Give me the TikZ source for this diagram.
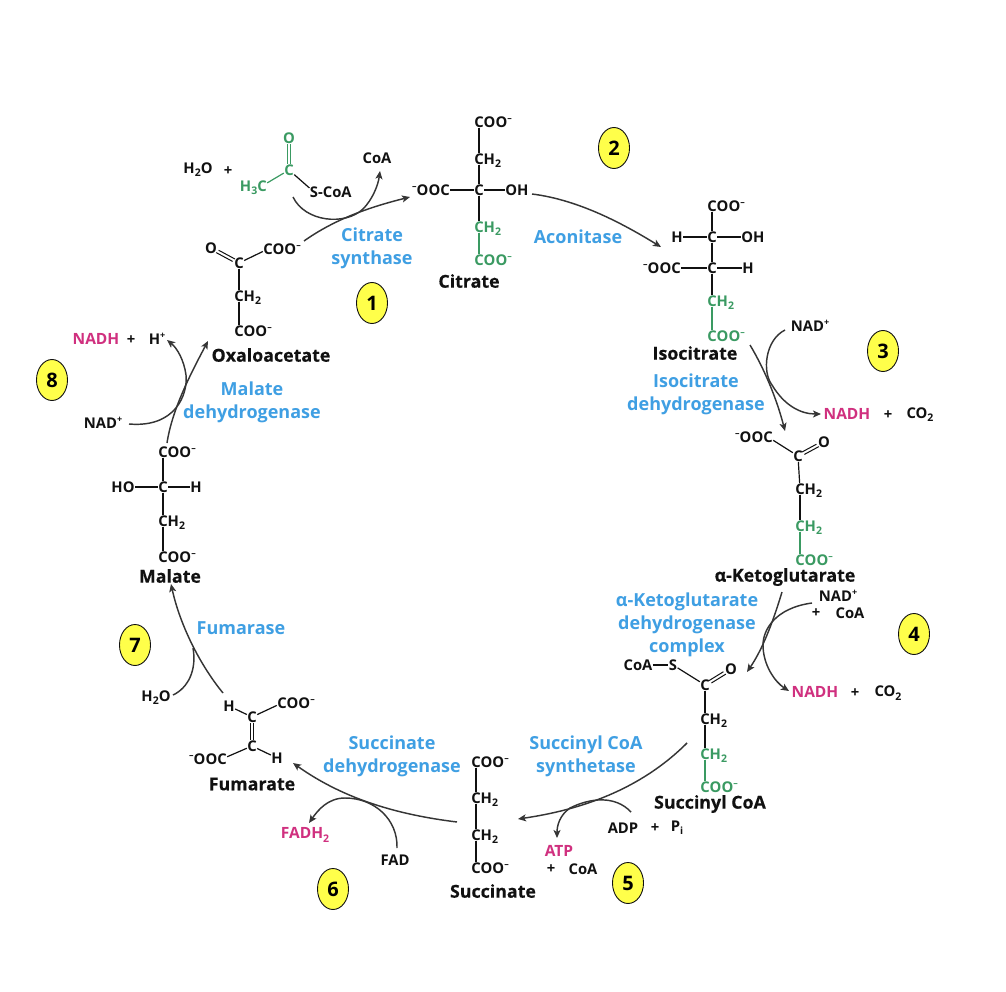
\documentclass[tikz,border=0pt]{standalone}
\usepackage{fontspec}
\setmainfont{Open Sans}
\newfontfamily\heavyfont[BoldFeatures={FakeBold=0.35}]{Open Sans}
\usetikzlibrary{arrows.meta,shapes.geometric}
\definecolor{ink}{HTML}{111111}
\definecolor{chemgreen}{HTML}{3A9A62}
\definecolor{enzblue}{HTML}{3F9FE3}
\definecolor{hotpink}{HTML}{D0307F}
\definecolor{badgeyellow}{HTML}{FFFF4A}
\newcommand\Rt[1]{\rlap{\smash{#1}}}
\newcommand\Lf[1]{\llap{\smash{#1}}}
\newcommand\Mns{\raisebox{.42em}{\fontsize{9}{9}\selectfont –}}
\newcommand\Pls{\raisebox{.42em}{\fontsize{9}{9}\selectfont +}}
\newcommand\Two{\raisebox{-.22em}{\fontsize{10.5}{10.5}\selectfont 2}}
\newcommand\Three{\raisebox{-.22em}{\fontsize{10.5}{10.5}\selectfont 3}}
\newcommand\Coo{C\Rt{OO\Mns}}
\newcommand\Ooc{\Lf{\Mns OO}C}
\newcommand\Chh{C\Rt{H\Two}}
\tikzset{
  atom/.style={font=\bfseries\fontsize{14.8}{16}\selectfont, inner sep=0.3pt, text=ink},
  gatom/.style={atom, text=chemgreen},
  title/.style={font=\heavyfont\bfseries\fontsize{17.8}{20}\selectfont, inner sep=0pt, text=ink},
  enzyme/.style={font=\bfseries\fontsize{18}{23}\selectfont, inner sep=0pt, text=enzblue, align=center},
  product/.style={atom, font=\bfseries\fontsize{15.5}{16}\selectfont, text=hotpink},
  bond/.style={draw=ink, line width=1.2pt},
  gbond/.style={draw=chemgreen, line width=1.2pt},
  dbl1/.style={draw=ink, line width=1pt, transform canvas={xshift=1.2pt,yshift=1.2pt}},
  dbl2/.style={draw=ink, line width=1pt, transform canvas={xshift=-1.2pt,yshift=-1.2pt}},
  dbl3/.style={draw=ink, line width=1pt, transform canvas={xshift=1.2pt,yshift=-1.2pt}},
  dbl4/.style={draw=ink, line width=1pt, transform canvas={xshift=-1.2pt,yshift=1.2pt}},
  vdbl1/.style={line width=1pt, transform canvas={xshift=1.5pt}},
  vdbl2/.style={line width=1pt, transform canvas={xshift=-1.5pt}},
  flow/.style={draw=ink!85, line width=1.45pt, -{Stealth[length=8pt,width=7pt,inset=2pt]}},
  badge/.style={ellipse, draw=ink, line width=0.9pt, fill=badgeyellow, minimum width=31pt, minimum height=41pt, inner sep=0pt, font=\bfseries\fontsize{20}{22}\selectfont, text=black}
}
\begin{document}
\begin{tikzpicture}[x=1pt,y=-1pt]
\useasboundingbox (0,0) rectangle (1006,992);
\fill[white] (0,0) rectangle (1006,992);

% --- Citrate
\node[atom] (citA) at (479,122) {\Coo};
\node[atom] (citB) at (479,159) {\Chh};
\node[atom] (citC) at (479,190) {C};
\node[atom] (citL) at (445,190) {\Ooc};
\node[atom] (citO) at (517,190) {OH};
\node[gatom] (citD) at (479,227) {\Chh};
\node[gatom] (citE) at (479,260) {\Coo};
\node[title] (citT) at (469,281) {Citrate};
\draw[bond] (citA)--(citB); \draw[bond] (citB)--(citC); \draw[bond] (citL)--(citC); \draw[bond] (citC)--(citO); \draw[bond] (citC)--(citD); \draw[gbond] (citD)--(citE);

% --- Acetyl CoA
\node[atom] (water1) at (198,170) {H\Two O};
\node[atom] (plus1) at (228,171) {+};
\node[gatom] (acO) at (289,138) {O};
\node[gatom] (acC) at (289,170) {C};
\node[gatom] (acM) at (262,186) {\Lf{H\Three}C};
\node[atom] (acS) at (314,192) {S\Rt{-CoA}};
\node[atom] (coa1) at (377,158) {CoA};
\draw[draw=chemgreen,vdbl1] (acO)--(acC); \draw[draw=chemgreen,vdbl2] (acO)--(acC); \draw[gbond] (acM)--(acC); \draw[bond] (acC)--(acS);

% --- Oxaloacetate
\node[atom] (oxO) at (211,248) {O};
\node[atom] (oxC) at (239,263) {C};
\node[atom] (oxA) at (268,249) {\Coo};
\node[atom] (oxB) at (239,296) {\Chh};
\node[atom] (oxD) at (239,331) {\Coo};
\node[title] (oxT) at (271,355) {Oxaloacetate};
\draw[dbl1] (oxO)--(oxC); \draw[dbl2] (oxO)--(oxC); \draw[bond] (oxC)--(oxA); \draw[bond] (oxC)--(oxB); \draw[bond] (oxB)--(oxD);
\node[enzyme] (enz1) at (372,248) {Citrate\\synthase};

% --- Isocitrate
\node[atom] (isoA) at (712,206) {\Coo};
\node[atom] (isoB) at (712,237) {C};
\node[atom] (isoH1) at (677,237) {H};
\node[atom] (isoO) at (753,237) {OH};
\node[atom] (isoC) at (712,268) {C};
\node[atom] (isoL) at (676,268) {\Ooc};
\node[atom] (isoH2) at (748,268) {H};
\node[gatom] (isoD) at (712,301) {\Chh};
\node[gatom] (isoE) at (712,336) {\Coo};
\node[title] (isoT) at (695,353) {Isocitrate};
\draw[bond] (isoA)--(isoB); \draw[bond] (isoH1)--(isoB); \draw[bond] (isoB)--(isoO); \draw[bond] (isoB)--(isoC); \draw[bond] (isoL)--(isoC); \draw[bond] (isoC)--(isoH2); \draw[bond] (isoC)--(isoD); \draw[gbond] (isoD)--(isoE);
\node[enzyme] (enz2) at (578,237) {Aconitase};
\node[enzyme] (enz3) at (696,394.5) {Isocitrate\\dehydrogenase};
\node[atom] (nad3) at (810,326) {NAD\Pls};
\node[product] (nadh3) at (847,414) {NADH};
\node[atom] (plus3) at (888,415) {+};
\node[atom] (co23) at (920,415) {CO\Two};

% --- alpha-Ketoglutarate
\node[atom] (akL) at (768,437) {\Ooc};
\node[atom] (akC) at (798,456) {C};
\node[atom] (akO) at (824,442) {O};
\node[atom] (akB) at (800,489) {\Chh};
\node[gatom] (akD) at (800,526) {\Chh};
\node[gatom] (akE) at (800,560) {\Coo};
\node[title] (akT) at (785,577) {α-Ketoglutarate};
\draw[bond] (akL)--(akC); \draw[dbl3] (akC)--(akO); \draw[dbl4] (akC)--(akO); \draw[bond] (akC)--(akB); \draw[bond] (akB)--(akD); \draw[gbond] (akD)--(akE);
\node[enzyme] (enz4) at (687,624.5) {α-Ketoglutarate\\dehydrogenase\\complex};
\node[atom] (nad4) at (838,596) {NAD\Pls};
\node[atom] (plus4) at (816,613) {+};
\node[atom] (coa4) at (850,613) {CoA};
\node[product] (nadh4) at (815,692) {NADH};
\node[atom] (plus4b) at (855,693) {+};
\node[atom] (co24) at (888,693) {CO\Two};

% --- Succinyl CoA
\node[atom] (scoa) at (638,665) {CoA};
\node[atom] (scS) at (673,665) {S};
\node[atom] (scC) at (705,685) {C};
\node[atom] (scO) at (731,669) {O};
\node[atom] (scB) at (705,719) {\Chh};
\node[gatom] (scD) at (705,754) {\Chh};
\node[gatom] (scE) at (705,787) {\Coo};
\node[title] (scT) at (710,804) {Succinyl CoA};
\draw[bond] (scoa)--(scS); \draw[bond] (scS)--(scC); \draw[dbl3] (scC)--(scO); \draw[dbl4] (scC)--(scO); \draw[bond] (scC)--(scB); \draw[bond] (scB)--(scD); \draw[gbond] (scD)--(scE);
\node[enzyme] (enz5) at (586,756.5) {Succinyl CoA\\synthetase};
\node[atom] (adp) at (623,828) {ADP};
\node[atom] (plus5) at (655,828) {+};
\node[atom] (pi5) at (677,828) {P\raisebox{-.22em}{\fontsize{10}{10}\selectfont i}};
\node[product] (atp) at (559,851) {ATP};
\node[atom] (plus5b) at (551,869) {+};
\node[atom] (coa5) at (583,869) {CoA};

% --- Succinate
\node[atom] (suA) at (476,762) {\Coo};
\node[atom] (suB) at (476,798) {\Chh};
\node[atom] (suC) at (476,835) {\Chh};
\node[atom] (suD) at (476,868) {\Coo};
\node[title] (suT) at (493,891) {Succinate};
\draw[bond] (suA)--(suB); \draw[bond] (suB)--(suC); \draw[bond] (suC)--(suD);
\node[enzyme] (enz6) at (392,756.5) {Succinate\\dehydrogenase};
\node[atom] (fad) at (395,860) {FAD};
\node[product] (fadh) at (305,835) {FADH\Two};

% --- Fumarate
\node[atom] (fuH1) at (229,706) {H};
\node[atom] (fuC1) at (252,717) {C};
\node[atom] (fuA) at (282,703) {\Coo};
\node[atom] (fuC2) at (252,746) {C};
\node[atom] (fuL) at (222,759) {\Ooc};
\node[atom] (fuH2) at (277,758) {H};
\node[title] (fuT) at (252,784) {Fumarate};
\draw[bond] (fuH1)--(fuC1); \draw[bond] (fuC1)--(fuA); \draw[draw=ink,vdbl1] (fuC1)--(fuC2); \draw[draw=ink,vdbl2] (fuC1)--(fuC2); \draw[bond] (fuL)--(fuC2); \draw[bond] (fuC2)--(fuH2);
\node[enzyme] (enz7) at (241,628) {Fumarase};
\node[atom] (water7) at (156,698) {H\Two O};

% --- Malate
\node[atom] (maA) at (163,452) {\Coo};
\node[atom] (maC) at (163,487) {C};
\node[atom] (maO) at (123,487) {HO};
\node[atom] (maH) at (196,487) {H};
\node[atom] (maB) at (163,521) {\Chh};
\node[atom] (maD) at (163,557) {\Coo};
\node[title] (maT) at (170,576) {Malate};
\draw[bond] (maA)--(maC); \draw[bond] (maO)--(maC); \draw[bond] (maC)--(maH); \draw[bond] (maC)--(maB); \draw[bond] (maB)--(maD);
\node[enzyme] (enz8) at (252,402.5) {Malate\\dehydrogenase};
\node[atom] (nad8) at (103,423) {NAD\Pls};
\node[product] (nadh8) at (96,339) {NADH};
\node[atom] (plus8) at (131,340) {+};
\node[atom] (hplus) at (157,339) {H\Pls};

% --- free arrow ends
\coordinate (a1s) at (304,241); \coordinate (a1e) at (410,197);
\coordinate (b1s) at (293,197); \coordinate (b1e) at (380,171);
\coordinate (a2s) at (532,194); \coordinate (a2e) at (661,247);
\coordinate (a3s) at (750,345); \coordinate (a3e) at (785,431);
\coordinate (b3s) at (785,330); \coordinate (b3e) at (821,414);
\coordinate (a4s) at (782,592); \coordinate (a4e) at (747,672);
\coordinate (b4s) at (812,603); \coordinate (b4e) at (789,691);
\coordinate (a5s) at (687,743); \coordinate (a5e) at (518,819);
\coordinate (b5s) at (631,812); \coordinate (b5e) at (557,838);
\coordinate (a6s) at (457,822); \coordinate (a6e) at (293,763);
\coordinate (b6s) at (397,848); \coordinate (b6e) at (309,823);
\coordinate (a7s) at (223,693); \coordinate (a7e) at (171,584);
\coordinate (b7s) at (173,695); \coordinate (b7e) at (193,648);
\coordinate (a8s) at (167,443); \coordinate (a8e) at (208,341);
\coordinate (b8s) at (129,424); \coordinate (b8e) at (167,340);

% --- reaction arrows
\draw[flow] (a1s) .. controls (335,219) and (370,207) .. (a1e);
\draw[flow] (b1s) .. controls (305,222) and (345,226) .. (363,209) .. controls (372,200) and (378,186) .. (b1e);
\draw[flow] (a2s) .. controls (580,200) and (625,225) .. (a2e);
\draw[flow] (a3s) .. controls (765,370) and (777,400) .. (a3e);
\draw[flow] (b3s) .. controls (765,340) and (762,372) .. (772,385) .. controls (784,405) and (800,414) .. (b3e);
\draw[flow] (a4s) .. controls (772,625) and (762,650) .. (a4e);
\draw[flow] (b4s) .. controls (775,608) and (763,630) .. (763,645) .. controls (763,665) and (775,682) .. (b4e);
\draw[flow] (a5s) .. controls (640,790) and (580,810) .. (a5e);
\draw[flow] (b5s) .. controls (615,795) and (590,798) .. (570,808) .. controls (560,815) and (557,825) .. (b5e);
\draw[flow] (a6s) .. controls (400,815) and (345,800) .. (a6e);
\draw[flow] (b6s) .. controls (398,820) and (375,798) .. (345,798) .. controls (328,798) and (318,810) .. (b6e);
\draw[flow] (a7s) .. controls (200,665) and (180,625) .. (a7e);
\draw[flow] (a8s) .. controls (172,410) and (190,375) .. (a8e);
\draw[flow] (b8s) .. controls (175,428) and (188,395) .. (186,375) .. controls (184,360) and (177,348) .. (b8e);
\draw[draw=ink!85, line width=1.45pt] (b7s) .. controls (188,688) and (197,670) .. (b7e);

% --- step badges
\node[badge] (s1) at (372,303) {1};
\node[badge] (s2) at (614,148) {2};
\node[badge] (s3) at (883,351) {3};
\node[badge] (s4) at (914,634) {4};
\node[badge] (s5) at (628,883) {5};
\node[badge] (s6) at (333,889) {6};
\node[badge] (s7) at (135,645) {7};
\node[badge] (s8) at (52,380) {8};
\end{tikzpicture}
\end{document}
